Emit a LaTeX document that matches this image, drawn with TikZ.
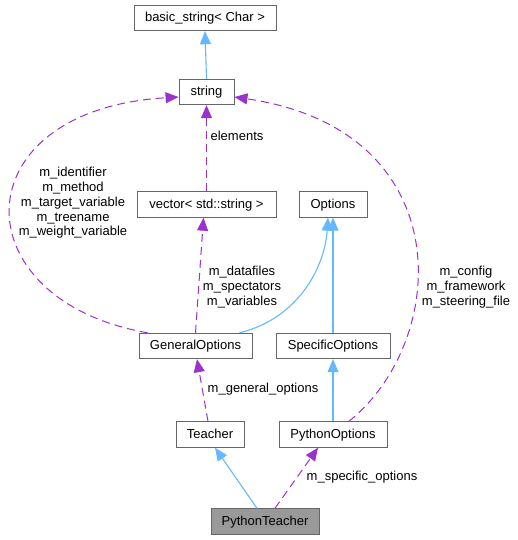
\documentclass[tikz,border=0pt]{standalone}
\usepackage{fontspec}
\setmainfont{Liberation Sans}
\usetikzlibrary{arrows.meta}
\definecolor{inhblue}{HTML}{63B8FF}
\definecolor{usepurple}{HTML}{9A32CD}
\definecolor{boxgray}{HTML}{666666}
\definecolor{hlfill}{HTML}{999999}
\tikzset{
  box/.style={draw=boxgray, fill=white, line width=0.9pt, inner sep=0pt, minimum height=25.5pt, text height=10pt, text depth=3pt, font=\fontsize{13}{14.7}\selectfont},
  hlbox/.style={box, fill=hlfill},
  inh/.style={draw=inhblue, line width=1.1pt, -{Triangle[length=13pt,width=11pt]}},
  usedge/.style={draw=usepurple, line width=1pt, dash pattern=on 8pt off 5pt, -{Triangle[length=13pt,width=11pt]}},
  lbl/.style={align=center, inner sep=0pt, font=\fontsize{13}{14.7}\selectfont}
}
\begin{document}
\begin{tikzpicture}[x=1pt,y=-1pt]
\useasboundingbox (0,0) rectangle (517,540);
% nodes
\node[box, minimum width=142pt] (bs) at (205,18) {basic\_string< Char >};
\node[box, minimum width=55pt] (str) at (206.5,92) {string};
\node[box, minimum width=139pt] (vec) at (206.5,204.5) {vector< std::string >};
\node[box, minimum width=68pt] (opt) at (333,204.5) {Options};
\node[box, minimum width=113pt] (gen) at (195.5,346) {GeneralOptions};
\node[box, minimum width=114pt] (spec) at (333,346) {SpecificOptions};
\node[box, minimum width=68pt] (teach) at (210,434.5) {Teacher};
\node[box, minimum width=108pt] (pyopt) at (333,434.5) {PythonOptions};
\node[hlbox, minimum width=108pt] (pyt) at (265,521.5) {PythonTeacher};
% labels
\node[lbl] (lelem) at (237,136) {elements};
\node[lbl] (lid) at (73,203) {m\_identifier\\m\_method\\m\_target\_variable\\m\_treename\\m\_weight\_variable};
\node[lbl] (ldata) at (242,287) {m\_datafiles\\m\_spectators\\m\_variables};
\node[lbl] (lconf) at (466,287) {m\_config\\m\_framework\\m\_steering\_file};
\node[lbl] (lgen) at (263,389) {m\_general\_options};
\node[lbl] (lspec) at (362,477) {m\_specific\_options};
% edges
\draw[inh] (str.north) -- (bs.south);
\draw[usedge] (vec.north) -- (str.south);
\draw[usedge] ([xshift=9pt]gen.north west) .. controls (-40,300) and (-40,110) .. ([yshift=-5pt]str.west);
\draw[usedge] ([xshift=16pt]pyopt.north) .. controls (450,340) and (460,130) .. ([yshift=-5pt]str.east);
\draw[usedge] (gen.north) -- ([xshift=-3pt]vec.south);
\draw[inh] ([xshift=44pt]gen.north) .. controls (300,318) and (325,265) .. ([xshift=-5pt]opt.south);
\draw[inh] (spec.north) -- (opt.south);
\draw[inh] (pyopt.north) -- (spec.south);
\draw[usedge] ([xshift=-2pt]teach.north) -- ([xshift=1.5pt]gen.south);
\draw[inh] ([xshift=-8pt]pyt.north) -- ([xshift=5pt]teach.south);
\draw[usedge] ([xshift=10pt]pyt.north) -- ([xshift=-15pt]pyopt.south);
\end{tikzpicture}
\end{document}
